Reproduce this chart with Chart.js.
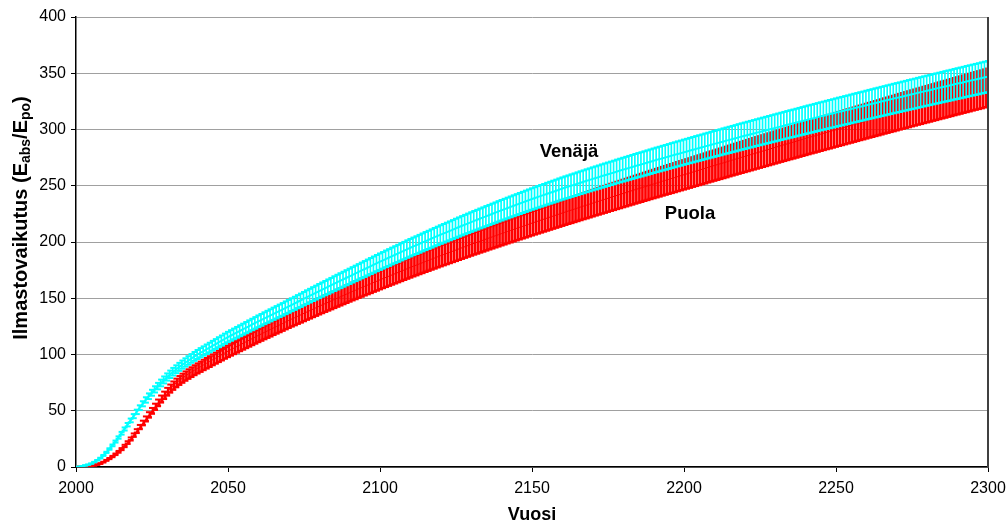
<!DOCTYPE html>
<html>
<head>
<meta charset="utf-8">
<script src="https://cdn.jsdelivr.net/npm/chart.js@4/dist/chart.umd.min.js"></script>
<style>
  html, body { margin: 0; padding: 0; background: #ffffff; }
  #wrap { width: 1006px; height: 526px; }
</style>
</head>
<body>
<div id="wrap"><canvas id="kuva" width="1006" height="526"></canvas></div>
<script>
// Ilmastovaikutus vuosittain 2000–2300, keskiarvo ja virhepalkit (± osuus arvosta)
const ALKUVUOSI = 2000;

const VENAJA = [
  0, 0.3, 0.8, 1.4, 2.1, 3.0, 4.4, 6.0, 7.9, 10.3,
  13.0, 16.0, 19.2, 22.6, 26.2, 30.0, 33.8, 37.6, 41.4, 45.2,
  49.0, 52.7, 56.2, 59.6, 62.9, 66.0, 69.0, 71.9, 74.7, 77.4,
  80.0, 82.4, 84.7, 86.9, 89.0, 91.0, 92.9, 94.7, 96.5, 98.3,
  100.0, 101.6, 103.1, 104.7, 106.2, 107.8, 109.3, 110.9, 112.4, 114.0,
  115.5, 116.9, 118.3, 119.7, 121.1, 122.5, 123.9, 125.3, 126.7, 128.1,
  129.5, 130.8, 132.2, 133.5, 134.8, 136.2, 137.5, 138.8, 140.1, 141.5,
  142.8, 144.2, 145.5, 146.9, 148.2, 149.6, 151.0, 152.3, 153.7, 155.0,
  156.4, 157.7, 159.0, 160.3, 161.6, 163.0, 164.3, 165.6, 166.9, 168.2,
  169.5, 170.8, 172.1, 173.4, 174.7, 176.0, 177.3, 178.6, 179.9, 181.2,
  182.5, 183.7, 185.0, 186.2, 187.5, 188.7, 189.9, 191.2, 192.4, 193.7,
  194.9, 196.1, 197.2, 198.4, 199.6, 200.8, 201.9, 203.1, 204.3, 205.4,
  206.6, 207.7, 208.8, 209.9, 211.0, 212.2, 213.3, 214.4, 215.5, 216.6,
  217.7, 218.8, 219.8, 220.9, 221.9, 223.0, 224.0, 225.1, 226.1, 227.2,
  228.2, 229.2, 230.2, 231.2, 232.2, 233.2, 234.2, 235.2, 236.2, 237.2,
  238.2, 239.1, 240.1, 241.0, 241.9, 242.9, 243.8, 244.7, 245.6, 246.6,
  247.5, 248.4, 249.2, 250.1, 250.9, 251.8, 252.7, 253.5, 254.4, 255.2,
  256.1, 256.9, 257.7, 258.6, 259.4, 260.2, 261.0, 261.8, 262.7, 263.5,
  264.3, 265.1, 265.9, 266.7, 267.5, 268.3, 269.0, 269.8, 270.6, 271.4,
  272.2, 273.0, 273.7, 274.5, 275.2, 276.0, 276.8, 277.5, 278.3, 279.0,
  279.8, 280.5, 281.3, 282.0, 282.8, 283.5, 284.2, 285.0, 285.7, 286.5,
  287.2, 287.9, 288.6, 289.4, 290.1, 290.8, 291.5, 292.2, 293.0, 293.7,
  294.4, 295.1, 295.8, 296.5, 297.2, 297.9, 298.6, 299.3, 300.0, 300.7,
  301.4, 302.1, 302.8, 303.5, 304.2, 304.9, 305.5, 306.2, 306.9, 307.6,
  308.3, 309.0, 309.6, 310.3, 311.0, 311.7, 312.3, 313.0, 313.7, 314.3,
  315.0, 315.7, 316.3, 317.0, 317.6, 318.3, 319.0, 319.6, 320.3, 320.9,
  321.6, 322.3, 322.9, 323.6, 324.2, 324.9, 325.5, 326.2, 326.8, 327.5,
  328.1, 328.7, 329.4, 330.0, 330.7, 331.3, 331.9, 332.6, 333.2, 333.9,
  334.5, 335.1, 335.8, 336.4, 337.0, 337.7, 338.3, 338.9, 339.5, 340.2,
  340.8, 341.4, 342.0, 342.7, 343.3, 343.9, 344.5, 345.1, 345.8, 346.4,
  347.0
];

const PUOLA = [
  0, 0.1, 0.2, 0.4, 0.7, 1.0, 1.5, 2.2, 3.1, 4.4,
  6.0, 7.6, 9.4, 11.4, 13.6, 16.0, 18.8, 21.8, 25.0, 28.4,
  32.0, 35.6, 39.2, 42.8, 46.4, 50.0, 53.6, 57.1, 60.5, 63.8,
  67.0, 69.8, 72.4, 74.8, 77.0, 79.0, 80.9, 82.7, 84.4, 86.1,
  87.7, 89.2, 90.8, 92.3, 93.8, 95.4, 96.9, 98.4, 99.9, 101.5,
  103.0, 104.4, 105.8, 107.2, 108.6, 110.0, 111.4, 112.8, 114.2, 115.6,
  117.0, 118.3, 119.7, 121.0, 122.3, 123.7, 125.0, 126.3, 127.6, 129.0,
  130.3, 131.6, 132.8, 134.1, 135.3, 136.6, 137.9, 139.1, 140.4, 141.6,
  142.9, 144.1, 145.3, 146.5, 147.7, 148.9, 150.1, 151.3, 152.5, 153.7,
  154.9, 156.1, 157.2, 158.4, 159.5, 160.7, 161.8, 162.9, 164.1, 165.2,
  166.4, 167.5, 168.6, 169.7, 170.8, 171.9, 173.0, 174.1, 175.2, 176.3,
  177.4, 178.5, 179.5, 180.6, 181.6, 182.7, 183.7, 184.8, 185.8, 186.9,
  187.9, 188.9, 189.9, 190.9, 191.9, 192.9, 193.9, 194.9, 195.9, 196.9,
  197.9, 198.9, 199.8, 200.8, 201.7, 202.7, 203.7, 204.6, 205.6, 206.5,
  207.5, 208.4, 209.4, 210.3, 211.2, 212.2, 213.1, 214.0, 214.9, 215.9,
  216.8, 217.7, 218.6, 219.5, 220.4, 221.3, 222.2, 223.1, 224.0, 224.9,
  225.8, 226.7, 227.6, 228.4, 229.3, 230.2, 231.1, 232.0, 232.8, 233.7,
  234.6, 235.5, 236.3, 237.2, 238.0, 238.9, 239.8, 240.6, 241.5, 242.3,
  243.2, 244.0, 244.9, 245.7, 246.6, 247.4, 248.2, 249.1, 249.9, 250.8,
  251.6, 252.4, 253.2, 254.1, 254.9, 255.7, 256.5, 257.3, 258.2, 259.0,
  259.8, 260.6, 261.4, 262.3, 263.1, 263.9, 264.7, 265.5, 266.4, 267.2,
  268.0, 268.8, 269.6, 270.4, 271.2, 272.1, 272.9, 273.7, 274.5, 275.3,
  276.1, 276.9, 277.7, 278.5, 279.3, 280.1, 280.9, 281.7, 282.5, 283.3,
  284.1, 284.9, 285.7, 286.5, 287.3, 288.1, 288.8, 289.6, 290.4, 291.2,
  292.0, 292.8, 293.6, 294.3, 295.1, 295.9, 296.7, 297.5, 298.2, 299.0,
  299.8, 300.6, 301.3, 302.1, 302.9, 303.6, 304.4, 305.2, 306.0, 306.7,
  307.5, 308.3, 309.0, 309.8, 310.5, 311.3, 312.1, 312.8, 313.6, 314.3,
  315.1, 315.9, 316.6, 317.4, 318.1, 318.9, 319.6, 320.4, 321.1, 321.9,
  322.6, 323.3, 324.1, 324.8, 325.6, 326.3, 327.0, 327.8, 328.5, 329.3,
  330.0, 330.7, 331.5, 332.2, 332.9, 333.7, 334.4, 335.1, 335.8, 336.6,
  337.3
];

// virhepalkkien suuruus, osuus arvosta
const VIRHE_VENAJA = 0.04;
const VIRHE_PUOLA = 0.05;

const X_TICKS = [2000, 2050, 2100, 2150, 2200, 2250, 2300];
const Y_TICKS = [0, 50, 100, 150, 200, 250, 300, 350, 400];

const SARJAT = ['Venäjä', 'Puola'];
const AKSELI_X = 'Vuosi';

const vuodet = VENAJA.map((_, i) => ALKUVUOSI + i);

const FONT = '"Liberation Sans", Arial, sans-serif';
const CYAN = '#00FFFF';
const RED = '#FF0000';

const palkit = (arvot, e) => arvot.map((v, i) => ({ x: vuodet[i], y: [v * (1 - e), v * (1 + e)] }));
const pisteet = (arvot, k) => arvot.map((v, i) => ({ x: vuodet[i], y: v * k }));

// Pystyakselin otsikko alaindekseineen, sarjojen nimet ja piirtoalueen oikea reuna
const koristeet = {
  id: 'koristeet',
  afterDraw(chart) {
    const ctx = chart.ctx;
    const area = chart.chartArea;
    ctx.save();
    ctx.strokeStyle = '#404040';
    ctx.lineWidth = 2;
    ctx.beginPath();
    ctx.moveTo(area.right, area.top);
    ctx.lineTo(area.right, area.bottom);
    ctx.stroke();

    const osat = [['Ilmastovaikutus (E', false], ['abs', true], ['/E', false], ['po', true], [')', false]];
    const iso = 'bold 20px ' + FONT;
    const pieni = 'bold 14px ' + FONT;
    let leveys = 0;
    osat.forEach(([t, s]) => { ctx.font = s ? pieni : iso; leveys += ctx.measureText(t).width; });
    ctx.translate(21, 218);
    ctx.rotate(-Math.PI / 2);
    ctx.fillStyle = '#000';
    ctx.textBaseline = 'middle';
    ctx.textAlign = 'left';
    let x = -leveys / 2;
    osat.forEach(([t, s]) => {
      ctx.font = s ? pieni : iso;
      ctx.fillText(t, x, s ? 5 : 0);
      x += ctx.measureText(t).width;
    });
    ctx.restore();

    ctx.save();
    ctx.fillStyle = '#000';
    ctx.font = 'bold 18.5px ' + FONT;
    ctx.textAlign = 'center';
    ctx.textBaseline = 'middle';
    ctx.fillText(SARJAT[0], 569, 152);
    ctx.fillText(SARJAT[1], 690, 214);
    ctx.restore();
  }
};

const luku = (v) => String(v);

new Chart(document.getElementById('kuva'), {
  type: 'bar',
  data: {
    datasets: [
      {
        type: 'line', label: SARJAT[0], order: 1,
        data: pisteet(VENAJA, 1),
        borderColor: CYAN, borderWidth: 2, pointRadius: 0, tension: 0
      },
      {
        type: 'scatter', label: SARJAT[0] + ' ylä', order: 2,
        data: pisteet(VENAJA, 1 + VIRHE_VENAJA),
        pointStyle: 'line', pointRadius: 3, borderColor: CYAN, pointBorderWidth: 2, showLine: false
      },
      {
        type: 'scatter', label: SARJAT[0] + ' ala', order: 2,
        data: pisteet(VENAJA, 1 - VIRHE_VENAJA),
        pointStyle: 'line', pointRadius: 3, borderColor: CYAN, pointBorderWidth: 2, showLine: false
      },
      {
        type: 'bar', label: SARJAT[0] + ' vaihteluväli', order: 3,
        data: palkit(VENAJA, VIRHE_VENAJA),
        backgroundColor: CYAN, barThickness: 1, borderWidth: 0, borderSkipped: false
      },
      {
        type: 'line', label: SARJAT[1], order: 4,
        data: pisteet(PUOLA, 1),
        borderColor: RED, borderWidth: 1, pointRadius: 0, tension: 0
      },
      {
        type: 'scatter', label: SARJAT[1] + ' ylä', order: 5,
        data: pisteet(PUOLA, 1 + VIRHE_PUOLA),
        pointStyle: 'line', pointRadius: 3, borderColor: RED, pointBorderWidth: 2, showLine: false
      },
      {
        type: 'scatter', label: SARJAT[1] + ' ala', order: 5,
        data: pisteet(PUOLA, 1 - VIRHE_PUOLA),
        pointStyle: 'line', pointRadius: 3, borderColor: RED, pointBorderWidth: 2.5, showLine: false
      },
      {
        type: 'bar', label: SARJAT[1] + ' vaihteluväli', order: 6,
        data: palkit(PUOLA, VIRHE_PUOLA),
        backgroundColor: RED, barThickness: 2, borderWidth: 0, borderSkipped: false
      }
    ]
  },
  options: {
    responsive: false,
    animation: false,
    events: [],
    layout: { padding: { left: 0, right: 18, top: 17, bottom: 0 } },
    plugins: { legend: { display: false }, tooltip: { enabled: false } },
    scales: {
      x: {
        type: 'linear', min: 2000, max: 2300, offset: false,
        afterBuildTicks: (s) => { s.ticks = X_TICKS.map(v => ({ value: v })); },
        afterFit: (s) => { s.height = 59; s.paddingLeft = 0; s.paddingRight = 0; },
        ticks: { color: '#000', font: { family: FONT, size: 16 }, padding: 7, maxRotation: 0, autoSkip: false, callback: luku },
        grid: { display: true, drawOnChartArea: false, drawTicks: true, tickLength: 5, tickColor: '#000', offset: false },
        border: { display: true, color: '#000', width: 1.5 },
        title: { display: true, text: AKSELI_X, color: '#000', font: { family: FONT, size: 18, weight: 'bold' }, padding: { top: 0, bottom: 0 } }
      },
      y: {
        type: 'linear', min: 0, max: 400,
        afterBuildTicks: (s) => { s.ticks = Y_TICKS.map(v => ({ value: v })); },
        afterFit: (s) => { s.width = 76; s.paddingTop = 0; s.paddingBottom = 0; },
        ticks: { color: '#000', font: { family: FONT, size: 16 }, padding: 5, callback: luku },
        grid: { color: '#a0a0a0', lineWidth: 1, drawTicks: true, tickLength: 5, tickColor: '#000' },
        border: { display: true, color: '#000', width: 1.5 }
      }
    }
  },
  plugins: [koristeet]
});
</script>
</body>
</html>
